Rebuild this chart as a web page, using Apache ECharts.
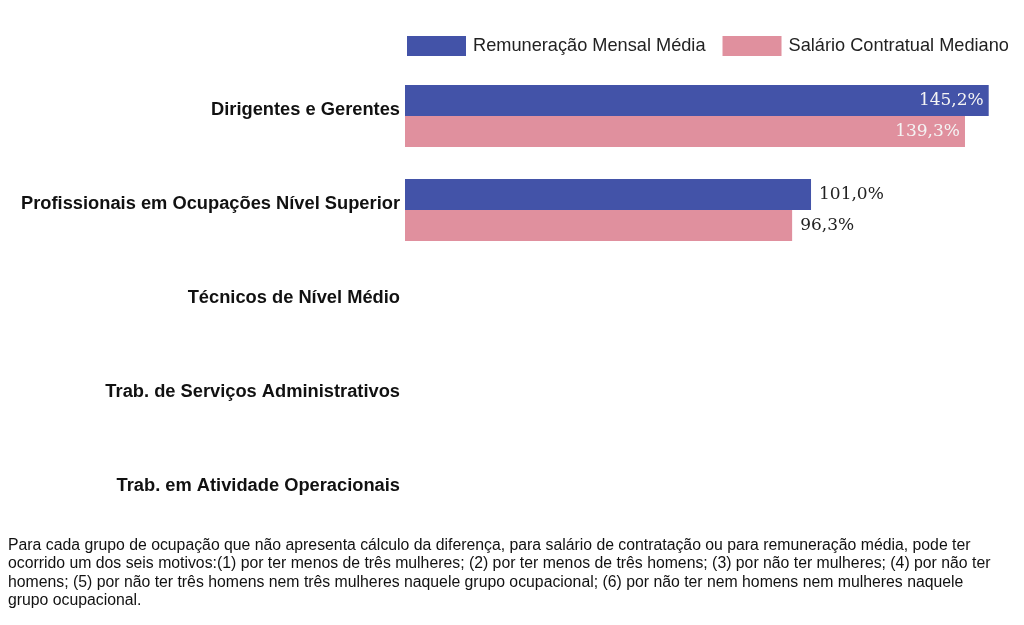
<!DOCTYPE html>
<html>
<head>
<meta charset="utf-8">
<script src="https://cdn.jsdelivr.net/npm/echarts@6/dist/echarts.min.js"></script>
<style>
    html, body { margin: 0; padding: 0; background: #fff; }
    #chart { width: 1024px; height: 625px; }
</style>
</head>
<body>
<div id="chart"></div>
<script>
// dados
const categorias = [
    'Dirigentes e Gerentes',
    'Profissionais em Ocupações Nível Superior',
    'Técnicos de Nível Médio',
    'Trab. de Serviços Administrativos',
    'Trab. em Atividade Operacionais'
]
const remuneracao = [145.2, 101.0, null, null, null]
const salario = [139.3, 96.3, null, null, null]
const nomesSeries = ['Remuneração Mensal Média', 'Salário Contratual Mediano']
const nota = 'Para cada grupo de ocupação que não apresenta cálculo da diferença, para salário de contratação ou para remuneração média, pode ter\n' +
    'ocorrido um dos seis motivos:(1) por ter menos de três mulheres; (2) por ter menos de três homens; (3) por não ter mulheres; (4) por não ter\n' +
    'homens; (5) por não ter três homens nem três mulheres naquele grupo ocupacional; (6) por não ter nem homens nem mulheres naquele\n' +
    'grupo ocupacional.'

function fmt(v) {
    return v.toFixed(1).replace('.', ',') + '%'
}

// primeira categoria com rótulo dentro da barra, as outras fora
function montar(valores) {
    return valores.map((v, i) => ({
        value: v,
        label: i === 0
            ? { position: 'insideRight', color: '#f4f4f4', distance: 5 }
            : { position: 'right', color: '#222', distance: 8 }
    }))
}

let option = {
    animation: false,
    legend: {
        left: 407,
        top: 36,
        padding: 0,
        itemWidth: 59,
        itemHeight: 20,
        itemGap: 17,
        icon: 'rect',
        textStyle: { fontFamily: 'Liberation Sans', fontSize: 18.2, color: '#222', padding: [0, 0, 0, 2] },
        data: nomesSeries
    },
    grid: {
        left: 405,
        right: 16,
        top: 69,
        bottom: 86,
        containLabel: false
    },
    xAxis: {
        type: 'value',
        min: 0,
        max: 150,
        show: false
    },
    yAxis: {
        type: 'category',
        inverse: true,
        data: categorias,
        axisLine: { show: false },
        axisTick: { show: false },
        axisLabel: {
            margin: 5,
            fontFamily: 'Liberation Sans',
            fontWeight: 'bold',
            fontSize: 18.3,
            color: '#111',
            verticalAlign: 'bottom',
            lineHeight: 12
        }
    },
    series: [{
        name: nomesSeries[0],
        type: 'bar',
        barWidth: 31,
        barGap: '0%',
        itemStyle: { color: '#4353A8' },
        label: {
            show: true,
            fontFamily: 'DejaVu Serif',
            fontSize: 17,
            formatter: p => fmt(p.value)
        },
        data: montar(remuneracao)
    }, {
        name: nomesSeries[1],
        type: 'bar',
        barWidth: 31,
        itemStyle: { color: '#E0909E' },
        label: {
            show: true,
            fontFamily: 'DejaVu Serif',
            fontSize: 17,
            formatter: p => fmt(p.value)
        },
        data: montar(salario)
    }],
    graphic: [{
        type: 'text',
        left: 8,
        top: 536,
        style: {
            text: nota,
            fontFamily: 'Liberation Sans',
            fontSize: 15.8,
            lineHeight: 18.5,
            fill: '#111'
        }
    }]
}

let chart = echarts.init(document.getElementById('chart'))
chart.setOption(option)

window.onresize = function() {
    chart.resize()
}
</script>
</body>
</html>
